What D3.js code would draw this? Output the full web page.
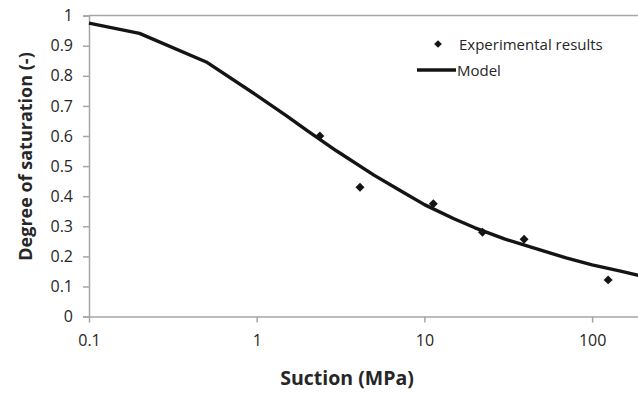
<!DOCTYPE html>
<html>
<head>
<meta charset="utf-8">
<script src="https://cdn.jsdelivr.net/npm/d3@7"></script>
<style>
  html, body { margin: 0; padding: 0; background: #fff; }
  svg { display: block; }
  text { font-family: "Open Sans", Lato, sans-serif; fill: #262626; }
</style>
</head>
<body>
<svg id="chart" width="638" height="393"></svg>
<script>
// Measured suction / degree of saturation pairs
const expSuction = [2.38, 4.13, 11.3, 22.2, 39.3, 124.6];
const expSat     = [0.60, 0.43, 0.375, 0.28, 0.257, 0.122];

// Model retention curve
const modelSuction = [0.1, 0.2, 0.5, 1, 1.5, 2, 3, 5, 7, 10, 15, 20, 30, 50, 70, 100, 150, 200];
const modelSat     = [0.975, 0.941, 0.846, 0.735, 0.668, 0.618, 0.55, 0.47, 0.422, 0.372, 0.325, 0.295, 0.258, 0.22, 0.195, 0.172, 0.15, 0.134];

const xTickValues = [0.1, 1, 10, 100];
const xTickLabels = ["0.1", "1", "10", "100"];
const yTickValues = [0, 0.1, 0.2, 0.3, 0.4, 0.5, 0.6, 0.7, 0.8, 0.9, 1];
const yTickLabels = ["0", "0.1", "0.2", "0.3", "0.4", "0.5", "0.6", "0.7", "0.8", "0.9", "1"];

const svg = d3.select("#chart");
const plotLeft = 89, plotRight = 642.6, plotTop = 15.6, plotBottom = 316.6;
const axisColor = "#a6a6a6";

const x = d3.scaleLog().domain([0.1, 200]).range([plotLeft, plotRight]);
const y = d3.scaleLinear().domain([0, 1]).range([plotBottom, plotTop]);

// top boundary line at y = 1
svg.append("line")
  .attr("x1", plotLeft).attr("x2", 638)
  .attr("y1", y(1)).attr("y2", y(1))
  .attr("stroke", axisColor).attr("stroke-width", 1.5);

// y axis
const yAxis = d3.axisLeft(y)
  .tickValues(yTickValues)
  .tickFormat((d, i) => yTickLabels[i])
  .tickSize(6).tickPadding(10);
const gy = svg.append("g").attr("transform", `translate(${plotLeft},0)`).call(yAxis);
gy.select(".domain").attr("stroke", axisColor).attr("stroke-width", 1.5);
gy.selectAll(".tick line").attr("stroke", axisColor).attr("stroke-width", 1.5);
gy.selectAll(".tick text").style("font-size", "16px").attr("fill", "#262626");

// x axis
const xAxis = d3.axisBottom(x)
  .tickValues(xTickValues)
  .tickFormat((d, i) => xTickLabels[i])
  .tickSize(6).tickSizeOuter(0).tickPadding(12);
const gx = svg.append("g").attr("transform", `translate(0,${plotBottom})`).call(xAxis);
gx.select(".domain").attr("stroke", axisColor).attr("stroke-width", 1.5);
gx.selectAll(".tick line").attr("stroke", axisColor).attr("stroke-width", 1.5);
gx.selectAll(".tick text").style("font-size", "16px").attr("fill", "#262626");

// model line
const modelData = modelSuction.map((s, i) => [s, modelSat[i]]);
svg.append("path")
  .datum(modelData)
  .attr("fill", "none")
  .attr("stroke", "#141414")
  .attr("stroke-width", 3.4)
  .attr("stroke-linejoin", "round")
  .attr("d", d3.line().x(d => x(d[0])).y(d => y(d[1])));

// experimental points as diamonds
const diamond = d3.symbol().type(d3.symbolSquare).size(40);
const expData = expSuction.map((s, i) => [s, expSat[i]]);
svg.append("g").selectAll("path")
  .data(expData)
  .join("path")
  .attr("d", diamond)
  .attr("fill", "#141414")
  .attr("transform", d => `translate(${x(d[0])},${y(d[1])}) rotate(45)`);

// legend
const lg = svg.append("g");
lg.append("path").attr("d", d3.symbol().type(d3.symbolSquare).size(30))
  .attr("fill", "#141414")
  .attr("transform", "translate(438,44) rotate(45)");
lg.append("text").attr("x", 459).attr("y", 49.5).style("font-size", "15px").text("Experimental results");
lg.append("line").attr("x1", 417).attr("x2", 456).attr("y1", 70).attr("y2", 70)
  .attr("stroke", "#141414").attr("stroke-width", 3.4);
lg.append("text").attr("x", 457).attr("y", 75.5).style("font-size", "15px").text("Model");

// axis titles
svg.append("text")
  .attr("x", 347).attr("y", 385)
  .attr("text-anchor", "middle")
  .style("font-size", "19.5px").style("font-weight", "bold")
  .text("Suction (MPa)");
svg.append("text")
  .attr("transform", "translate(31.5,156.5) rotate(-90)")
  .attr("text-anchor", "middle")
  .style("font-size", "18px").style("font-weight", "bold")
  .text("Degree of saturation (-)");
</script>
</body>
</html>
